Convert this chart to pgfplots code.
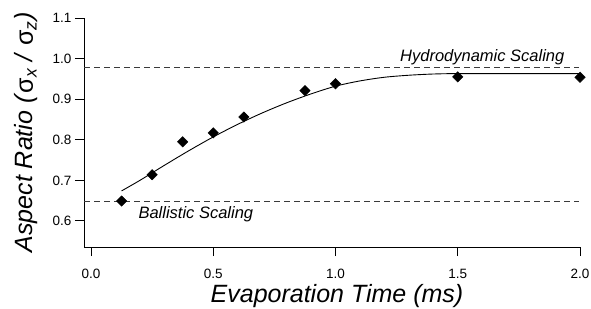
\documentclass[border=0pt]{standalone}
\usepackage{fontspec}
\setmainfont{Liberation Sans}
\usepackage{pgfplots}
\pgfplotsset{compat=1.18}
\usetikzlibrary{calc}
\definecolor{dashgray}{HTML}{3A3A3A}
\begin{document}
\begin{tikzpicture}
\begin{axis}[name=ax, scale only axis, width=496pt, height=229pt,
  xmin=-0.0287, xmax=2.0, ymin=0.5358, ymax=1.1,
  axis x line*=bottom, axis y line*=left,
  axis line style={-, line width=0.9pt},
  tick align=outside, major tick length=9pt,
  tick style={black, line width=0.9pt},
  xtick={0,0.5,1,1.5,2}, ytick={0.6,0.7,0.8,0.9,1.0,1.1},
  /pgf/number format/assume math mode=true,
  /pgf/number format/.cd, fixed, fixed zerofill, precision=1, /pgfplots/.cd,
  ticklabel style={font=\fontsize{13.5}{16}\selectfont},
  xticklabel style={anchor=base, yshift=-22pt},
  yticklabel style={anchor=east},
  xlabel={\itshape Evaporation Time (ms)},
  ylabel={\itshape Aspect Ratio (\textup{σ}\textsubscript{x} / \textup{σ}\textsubscript{z})},
  label style={font=\fontsize{25}{30}\selectfont},
  xlabel style={at={(rel axis cs:0.5,0)}, anchor=base, yshift=-55pt, xshift=5pt},
  ylabel style={at={(rel axis cs:0,0.5)}, anchor=base, yshift=51pt},
  clip=false,
]
\addplot[dashgray, line width=1pt, dash pattern=on 6pt off 4pt] coordinates {(-0.0287,0.978) (1.995,0.978)};
\addplot[dashgray, line width=1pt, dash pattern=on 6pt off 4pt] coordinates {(-0.0287,0.649) (1.995,0.649)};
\addplot[black, line width=0.9pt, smooth] coordinates {
 (0.125,0.674) (0.2,0.700) (0.3,0.737) (0.4,0.773) (0.5,0.807) (0.6,0.838)
 (0.7,0.866) (0.8,0.891) (0.9,0.913) (1.0,0.932) (1.1,0.945) (1.2,0.954)
 (1.3,0.959) (1.4,0.962) (1.5,0.963) (1.75,0.963) (2.0,0.963)};
\addplot[only marks, mark=square*, mark size=3.7pt, mark options={rotate=45, fill=black}] coordinates {
 (0.125,0.649) (0.25,0.714) (0.375,0.795) (0.5,0.817) (0.625,0.856)
 (0.875,0.921) (1.0,0.938) (1.5,0.955) (2.0,0.954)};
\node[anchor=base west, font=\fontsize{16.5}{20}\selectfont\itshape] at (axis cs:1.25,0.9926) {Hydrodynamic Scaling};
\node[anchor=base west, font=\fontsize{16.5}{20}\selectfont\itshape] at (axis cs:0.18,0.605) {Ballistic Scaling};
\end{axis}
\pgfresetboundingbox
\path ($(ax.south west)+(-84pt,-61pt)$) rectangle ($(ax.north east)+(11pt,18pt)$);
\end{tikzpicture}
\end{document}
